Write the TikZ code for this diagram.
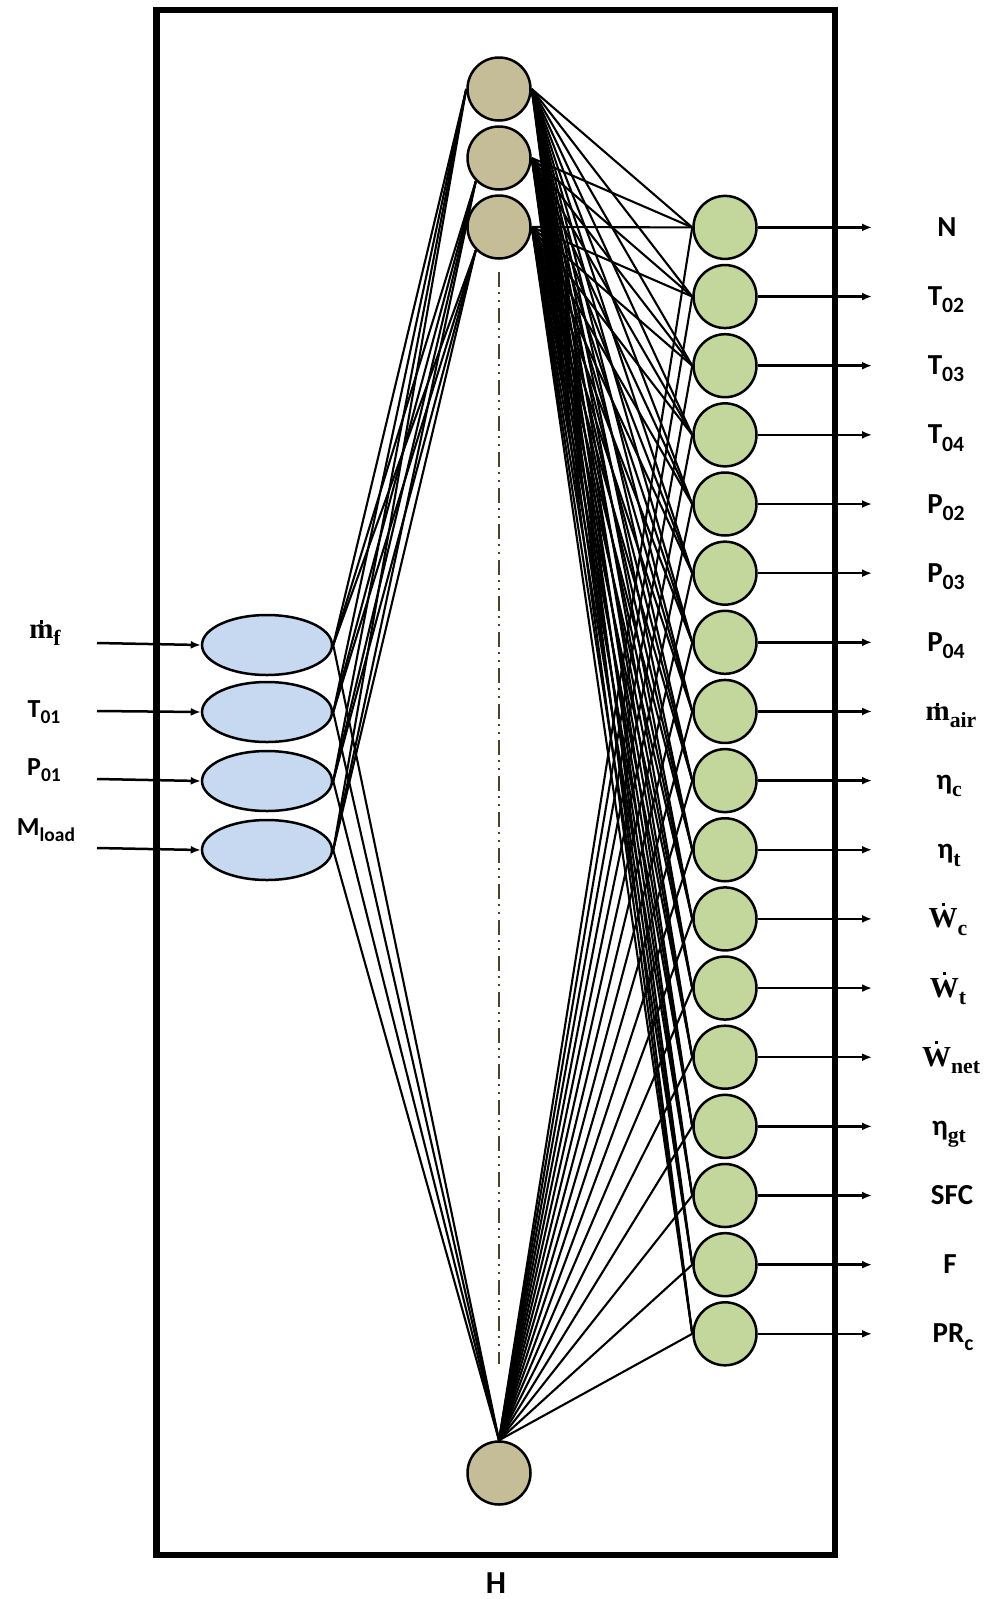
\documentclass[tikz,border=0pt]{standalone}
\usepackage{fontspec}
\usepackage{graphicx}
\setmainfont{Carlito}
\newfontfamily\serb{Liberation Serif}
\usetikzlibrary{shapes.geometric,arrows.meta}
\definecolor{hidc}{RGB}{196,189,151}
\definecolor{outc}{RGB}{195,214,155}
\definecolor{inc}{RGB}{198,217,241}
\definecolor{dashc}{RGB}{74,69,42}
\newcommand\dacc[2]{\leavevmode\ooalign{#2\cr\hidewidth\raisebox{#1}{\rule{0.11em}{0.11em}}\hidewidth\cr}}
\newcommand\sbs[1]{\raisebox{-0.25em}{\scalebox{0.75}{#1}}}
\pgfdeclarelayer{bg}
\pgfsetlayers{bg,main}
\begin{document}
\begin{tikzpicture}[x=1pt,y=-1pt,
  hid/.style={circle, draw=black, line width=2.5pt, fill=hidc, minimum size=63pt, inner sep=0pt},
  outn/.style={circle, draw=black, line width=2.5pt, fill=outc, minimum size=63pt, inner sep=0pt},
  inn/.style={ellipse, draw=black, line width=2.5pt, fill=inc, minimum width=130pt, minimum height=60pt, inner sep=0pt},
  conn/.style={line width=2.1pt},
  arr/.style={line width=2.5pt, -{Latex[length=10pt,width=8pt]}},
  olab/.style={font=\bfseries\fontsize{29}{31}\selectfont, anchor=base, inner sep=0pt},
  ilab/.style={font=\bfseries\fontsize{26}{28}\selectfont, anchor=base, inner sep=0pt}]
\useasboundingbox (0,0) rectangle (984,1599);
% frame
\draw[line width=6.5pt] (156.5,10) rectangle (835,1555);
% hidden nodes
\node[hid] (h1) at (499,89) {};
\node[hid] (h2) at (499,158) {};
\node[hid] (h3) at (499,227) {};
\node[hid] (hb) at (499,1473) {};
% dash-dot line
\coordinate (dtop) at (499,272);
\coordinate (dbot) at (499,1364);
\draw[dashc, line width=2.5pt, dash pattern=on 15pt off 5pt on 2pt off 6pt on 2pt off 6pt] (dtop) -- (dbot);
% input nodes
\node[inn] (i1) at (267,645) {};
\node[inn] (i2) at (267,712) {};
\node[inn] (i3) at (267,781) {};
\node[inn] (i4) at (267,850) {};
% output nodes
\foreach \j in {1,...,17}{
  \node[outn] (o\j) at (725,{227.4+69.15*(\j-1)}) {};
  \coordinate (e\j) at (872,{227.4+69.15*(\j-1)});
  \draw[arr] (o\j.east) -- (e\j);
}
% connections
\begin{pgfonlayer}{bg}
\foreach \i in {1,...,4}{
  \draw[conn] (i\i.east) -- (h1.west);
  \draw[conn] (i\i.east) -- (h2.south west);
  \draw[conn] (i\i.east) -- (h3.south west);
  \draw[conn] (i\i.east) -- (hb.north);
}
\foreach \j in {1,...,17}{
  \draw[conn] (h1.east) -- (o\j.west);
  \draw[conn] (h2.east) -- (o\j.west);
  \draw[conn] (h3.east) -- (o\j.west);
  \draw[conn] (hb.north) -- (o\j.west);
}
\end{pgfonlayer}
% input arrows
\coordinate (s1) at (97,643);
\coordinate (s2) at (97,711);
\coordinate (s3) at (97,779);
\coordinate (s4) at (97,848);
\foreach \i in {1,...,4}{ \draw[arr] (s\i) -- (i\i.west); }
% input labels
\node[ilab] (l1) at (45,638) {{\serb\fontsize{29}{31}\selectfont\dacc{0.5em}{m}\sbs{f}}};
\node[ilab] (l2) at (44,717) {T\sbs{01}};
\node[ilab] (l3) at (44,775) {P\sbs{01}};
\node[ilab] (l4) at (46,835) {M\sbs{load}};
% output labels
\node[olab] (n1) at (947,{227.4+9}) {N};
\node[olab] (n2) at (946,{227.4+69.15*1+9}) {T\sbs{02}};
\node[olab] (n3) at (946,{227.4+69.15*2+9}) {T\sbs{03}};
\node[olab] (n4) at (946,{227.4+69.15*3+9}) {T\sbs{04}};
\node[olab] (n5) at (946,{227.4+69.15*4+9}) {P\sbs{02}};
\node[olab] (n6) at (946,{227.4+69.15*5+9}) {P\sbs{03}};
\node[olab] (n7) at (946,{227.4+69.15*6+9}) {P\sbs{04}};
\node[olab] (n8) at (951,{227.4+69.15*7+9}) {{\serb\dacc{0.5em}{m}\sbs{air}}};
\node[olab] (n9) at (949,{227.4+69.15*8+9}) {η\sbs{\serb c}};
\node[olab] (n10) at (949,{227.4+69.15*9+9}) {η\sbs{\serb t}};
\node[olab] (n11) at (948,{227.4+69.15*10+9}) {{\serb\dacc{0.75em}{W}\sbs{c}}};
\node[olab] (n12) at (948,{227.4+69.15*11+9}) {{\serb\dacc{0.75em}{W}\sbs{t}}};
\node[olab] (n13) at (951,{227.4+69.15*12+9}) {{\serb\dacc{0.75em}{W}\sbs{net}}};
\node[olab] (n14) at (949,{227.4+69.15*13+9}) {η\sbs{\serb gt}};
\node[olab] (n15) at (952,{227.4+69.15*14+9}) {SFC};
\node[olab] (n16) at (950,{227.4+69.15*15+9}) {F};
\node[olab] (n17) at (953,{227.4+69.15*16+9}) {PR\sbs{c}};
% H label
\node[olab, font=\bfseries\fontsize{32}{34}\selectfont] (hl) at (496,1593) {H};
\end{tikzpicture}
\end{document}
